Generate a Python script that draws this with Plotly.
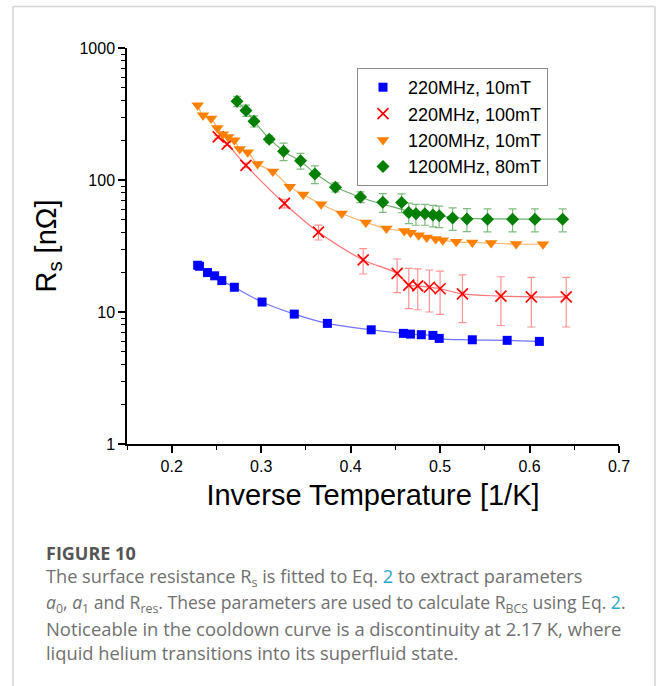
import plotly.graph_objects as go

# ---------------- data ----------------
blue_x = [0.229, 0.231, 0.240, 0.248, 0.256, 0.270, 0.301, 0.337, 0.374, 0.423,
          0.459, 0.467, 0.479, 0.492, 0.499, 0.536, 0.575, 0.611]
blue_y = [22.6, 22.2, 19.9, 18.8, 17.3, 15.4, 11.9, 9.64, 8.2, 7.33,
          6.89, 6.8, 6.73, 6.65, 6.31, 6.16, 6.1, 5.99]

red_x = [0.252, 0.262, 0.283, 0.326, 0.364, 0.414, 0.452, 0.465, 0.475, 0.488,
         0.500, 0.525, 0.568, 0.602, 0.641]
red_y = [212, 187, 129, 66.4, 40.3, 24.8, 19.6, 16.0, 15.8, 15.4,
         15.0, 13.7, 13.2, 13.0, 13.0]
red_err = [5, 5, 5, 5, 5.2, 5.4, 5.6, 5.4, 5.4, 5.4, 5.4, 5.4, 5.3, 5.3, 5.3]

orange_x = [0.229, 0.235, 0.244, 0.251, 0.257, 0.263, 0.270, 0.276, 0.285, 0.296,
            0.313, 0.332, 0.347, 0.367, 0.390, 0.417, 0.440, 0.460, 0.467, 0.476,
            0.485, 0.495, 0.503, 0.518, 0.536, 0.557, 0.585, 0.615]
orange_y = [368, 309, 292, 248, 222, 212, 200, 172, 162, 132,
            116, 88.7, 77.6, 65.6, 55.8, 47.7, 42.9, 41.0, 39.8, 38.2,
            36.7, 35.7, 35.0, 34.0, 33.6, 33.3, 32.7, 32.6]

green_x = [0.273, 0.283, 0.292, 0.309, 0.325, 0.344, 0.360, 0.383, 0.411, 0.436,
           0.457, 0.465, 0.473, 0.483, 0.492, 0.499, 0.514, 0.530, 0.553, 0.581,
           0.606, 0.637]
green_y = [395, 336, 279, 204, 165, 140, 111, 88.2, 74.4, 67.9,
           67.5, 56.7, 55.4, 55.4, 54.2, 53.5, 51.6, 50.7, 50.5, 50.5,
           50.5, 50.5]
green_err = [35, 33, 27, 12, 25, 19, 17, 7, 7, 11,
             11, 10, 10, 10, 10, 10, 10, 10, 10, 10,
             10, 10]
green_fit = [395, 336, 279, 206, 166, 138, 113, 89, 74, 65.5,
             60, 57.5, 56, 55, 54, 53.5, 52, 51.2, 50.8, 50.6,
             50.5, 50.5]

labels = ["220MHz, 10mT", "220MHz, 100mT", "1200MHz, 10mT", "1200MHz, 80mT"]

y_tickvals = [1, 10, 100, 1000]
y_ticktext = ["1", "10", "100", "1000"]
x_tickvals = [0.2, 0.3, 0.4, 0.5, 0.6, 0.7]
x_ticktext = ["0.2", "0.3", "0.4", "0.5", "0.6", "0.7"]

# ---------------- layout geometry ----------------
W, H = 658, 686
L, R, T, B = 127, 39, 48, 242
PW, PH = W - L - R, H - T - B


def px2x(px):
    return (px - L) / PW


def py2y(py):
    return (H - B - py) / PH


ARIAL = "Arial, Liberation Sans, sans-serif"

fig = go.Figure()

# fit lines (no legend)
fig.add_trace(go.Scatter(x=blue_x, y=blue_y, mode="lines", showlegend=False,
                         line=dict(color="rgba(80,80,255,0.8)", width=1.2, shape="spline"),
                         hoverinfo="skip"))
fig.add_trace(go.Scatter(x=red_x, y=red_y, mode="lines", showlegend=False,
                         line=dict(color="rgba(255,90,90,0.85)", width=1.2, shape="spline"),
                         hoverinfo="skip"))
fig.add_trace(go.Scatter(x=orange_x, y=orange_y, mode="lines", showlegend=False,
                         line=dict(color="rgba(255,170,90,0.9)", width=1.2, shape="spline"),
                         hoverinfo="skip"))
fig.add_trace(go.Scatter(x=green_x, y=green_fit, mode="lines", showlegend=False,
                         line=dict(color="rgba(80,160,80,0.85)", width=1.2, shape="spline"),
                         hoverinfo="skip"))

# markers
fig.add_trace(go.Scatter(x=blue_x, y=blue_y, mode="markers", name=labels[0],
                         marker=dict(symbol="square", size=9, color="#0000ff")))
fig.add_trace(go.Scatter(x=red_x, y=red_y, mode="markers", name=labels[1],
                         marker=dict(symbol="x-thin", size=11, color="#ff0000",
                                     line=dict(color="#ff0000", width=1.7)),
                         error_y=dict(type="data", array=red_err, visible=True,
                                      color="rgba(255,100,100,0.7)", thickness=1.2, width=4)))
fig.add_trace(go.Scatter(x=orange_x, y=orange_y, mode="markers", name=labels[2],
                         marker=dict(symbol="triangle-down", size=11, color="#ff8000")))
fig.add_trace(go.Scatter(x=green_x, y=green_y, mode="markers", name=labels[3],
                         marker=dict(symbol="diamond", size=10, color="#007f00"),
                         error_y=dict(type="data", array=green_err, visible=True,
                                      color="rgba(60,150,60,0.65)", thickness=1.2, width=4)))

# frame around figure
frame = "#d4d4d4"
shapes = [
    dict(type="line", xref="paper", yref="paper", x0=px2x(13), x1=px2x(655),
         y0=py2y(6.5), y1=py2y(6.5), line=dict(color=frame, width=1.5)),
    dict(type="line", xref="paper", yref="paper", x0=px2x(13), x1=px2x(13),
         y0=py2y(6.5), y1=py2y(700), line=dict(color=frame, width=1.5)),
    dict(type="line", xref="paper", yref="paper", x0=px2x(655), x1=px2x(655),
         y0=py2y(6.5), y1=py2y(700), line=dict(color=frame, width=1.5)),
]

CAP_FONT = "Open Sans, Lato, sans-serif"
cap_color = "#707070"
link = "#2aa6c6"
caption_lines = [
    "The surface resistance R<sub>s</sub> is fitted to Eq. <span style='color:%s'>2</span> to extract parameters" % link,
    "<i>a</i><sub>0</sub>, <i>a</i><sub>1</sub> and R<sub>res</sub>. These parameters are used to calculate R<sub>BCS</sub> using Eq. <span style='color:%s'>2</span>." % link,
    "Noticeable in the cooldown curve is a discontinuity at 2.17 K, where",
    "liquid helium transitions into its superfluid state.",
]
caption_y = [577.5, 603, 628.5, 652]
caption_size = [18.2, 17.6, 18.4, 18.3]

annotations = [
    dict(text="<b>FIGURE 10</b>", xref="paper", yref="paper", x=px2x(44), y=py2y(553),
         xanchor="left", yanchor="middle", showarrow=False,
         font=dict(family=CAP_FONT, size=18, color="#555555")),
]
for t, yy, sz in zip(caption_lines, caption_y, caption_size):
    annotations.append(dict(text=t, xref="paper", yref="paper", x=px2x(44), y=py2y(yy),
                            xanchor="left", yanchor="middle", showarrow=False,
                            font=dict(family=CAP_FONT, size=sz, color=cap_color)))

fig.update_layout(
    width=W, height=H,
    margin=dict(l=L, r=R, t=T, b=B),
    paper_bgcolor="white", plot_bgcolor="white",
    font=dict(family=ARIAL, color="black"),
    showlegend=True,
    legend=dict(x=px2x(357), y=py2y(68), xanchor="left", yanchor="top",
                bgcolor="white", bordercolor="#8c8c8c", borderwidth=1,
                font=dict(family=ARIAL, size=18, color="black"),
                tracegroupgap=0, itemwidth=40),
    shapes=shapes,
    annotations=annotations,
)

fig.update_xaxes(
    range=[0.15, 0.7], showgrid=False, zeroline=False,
    showline=True, linecolor="black", linewidth=1.5,
    ticks="outside", ticklen=7, tickwidth=1.5, tickcolor="black",
    tickvals=x_tickvals, ticktext=x_ticktext,
    tickfont=dict(family=ARIAL, size=16, color="black"),
    minor=dict(ticks="outside", ticklen=4, tickwidth=1.2, tickcolor="black", dtick=0.05, tick0=0.15),
    title=dict(text="Inverse Temperature [1/K]", font=dict(family=ARIAL, size=29, color="black"),
               standoff=11),
)
fig.update_yaxes(
    type="log", range=[0, 3], showgrid=False, zeroline=False,
    showline=True, linecolor="black", linewidth=1.5,
    ticks="outside", ticklen=7, tickwidth=1.5, tickcolor="black",
    tickvals=y_tickvals, ticktext=y_ticktext,
    tickfont=dict(family=ARIAL, size=16, color="black"),
    minor=dict(ticks="outside", ticklen=4, tickwidth=1.2, tickcolor="black", dtick="D1"),
    title=dict(text="R<sub>s</sub> [nΩ]", font=dict(family=ARIAL, size=29, color="black"),
               standoff=14),
)

fig.write_html("out.html")
